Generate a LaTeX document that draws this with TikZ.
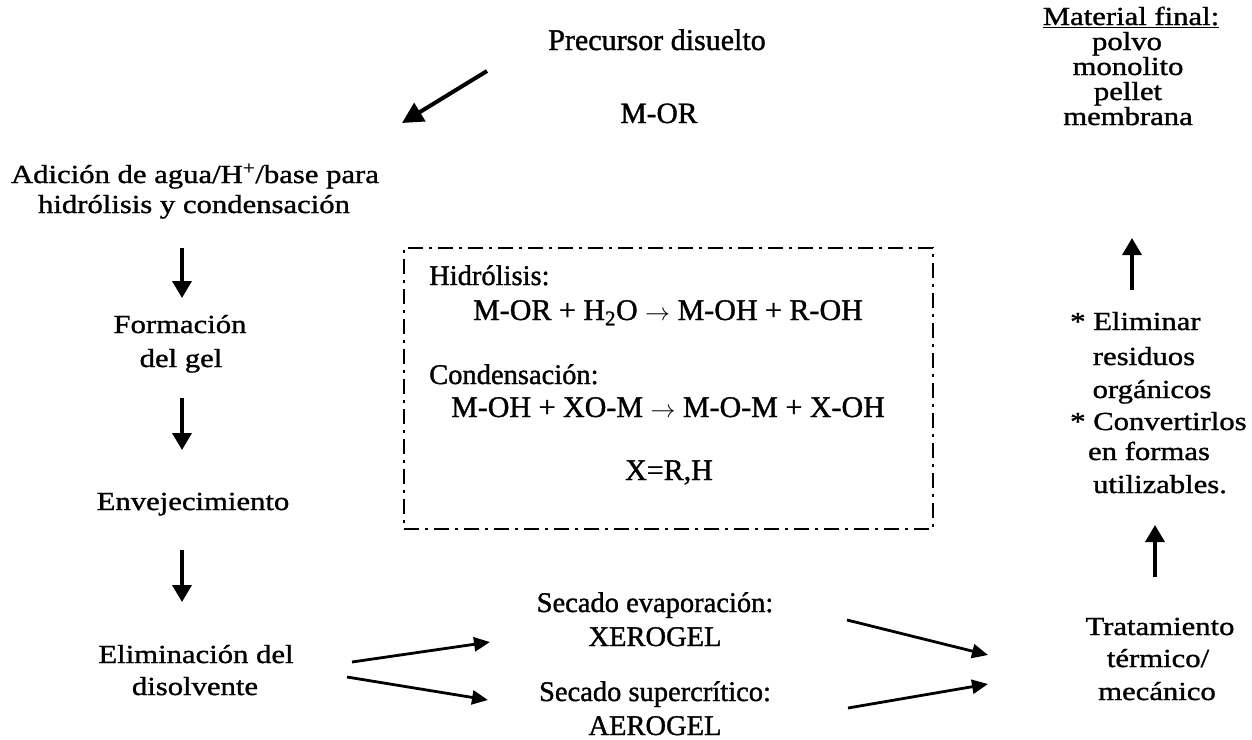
\documentclass[tikz,border=0pt]{standalone}
\usepackage{fontspec}
\setmainfont[FakeBold=1.2]{Liberation Serif}
\newfontfamily\WideF[FakeStretch=1.18,FakeBold=1.2]{Liberation Serif}
\usetikzlibrary{arrows.meta}
\begin{document}
\begin{tikzpicture}[x=1pt,y=-1pt,
  wtxt/.style={inner sep=0pt, anchor=base, font=\WideF\fontsize{26}{32}\selectfont},
  wtxtl/.style={wtxt, anchor=base west},
  ttxt/.style={inner sep=0pt, anchor=base, font=\fontsize{28.5}{34}\selectfont},
  ttxtl/.style={ttxt, anchor=base west},
  eqtxt/.style={inner sep=0pt, anchor=base, font=\fontsize{30}{34}\selectfont},
  flow/.style={line width=3.5pt, -{Triangle[length=17pt,width=19pt]}},
  bigflow/.style={line width=4pt, -{Triangle[length=21pt,width=21pt]}},
  sideflow/.style={line width=2.8pt, -{Triangle[length=16pt,width=14pt]}},
  dashbox/.style={draw, line width=2pt, dash pattern=on 15pt off 6pt on 3pt off 6pt,
    inner sep=0pt, anchor=north west}
]
\useasboundingbox[fill=white] (0,0) rectangle (1252,739);

% top centre
\node[ttxt, font=\fontsize{30}{34}\selectfont] (prec) at (657,50) {Precursor disuelto};
\node[ttxt, font=\fontsize{29.5}{34}\selectfont] (mor) at (659,123) {M-OR};

% left column
\node[wtxt] (adic1) at (195,183) {Adición de agua/H\textsuperscript{+}/base para};
\node[wtxt] (adic2) at (194,213) {hidrólisis y condensación};
\node[wtxt] (form1) at (180,333) {Formación};
\node[wtxt] (form2) at (181,367) {del gel};
\node[wtxt] (env) at (193,510) {Envejecimiento};
\node[wtxt] (elim1) at (196,663) {Eliminación del};
\node[wtxt] (elim2) at (195,695) {disolvente};

% dashed box
\node[dashbox, minimum width=529pt, minimum height=281pt] (box) at (403,247) {};
\node[ttxtl] (hid) at (429,285) {Hidrólisis:};
\node[eqtxt] (eq1) at (668,320) {M-OR + H\textsubscript{2}O $\rightarrow$ M-OH + R-OH};
\node[ttxtl] (cond) at (429,384) {Condensación:};
\node[eqtxt] (eq2) at (668,417) {M-OH + XO-M $\rightarrow$ M-O-M + X-OH};
\node[eqtxt] (xrh) at (669,480) {X=R,H};

% drying
\node[ttxt] (sec1) at (655,612) {Secado evaporación:};
\node[ttxt] (xero) at (655,646) {XEROGEL};
\node[ttxt] (sec2) at (655,701) {Secado supercrítico:};
\node[ttxt] (aero) at (655,735) {AEROGEL};

% right column
\node[wtxt] (mat) at (1131,25) {\underline{Material final:}};
\node[wtxt] (polvo) at (1127,50) {polvo};
\node[wtxt] (mono) at (1128,75) {monolito};
\node[wtxt] (pell) at (1128,100) {pellet};
\node[wtxt] (memb) at (1128,125) {membrana};

\node[wtxtl] (el1) at (1070,330) {* Eliminar};
\node[wtxt] (el2) at (1144,365) {residuos};
\node[wtxt] (el3) at (1152,398) {orgánicos};
\node[wtxtl] (cv1) at (1070,430) {* Convertirlos};
\node[wtxt] (cv2) at (1149,460) {en formas};
\node[wtxt] (cv3) at (1160,493) {utilizables.};

\node[wtxt] (trat1) at (1160,635) {Tratamiento};
\node[wtxt] (trat2) at (1158,667) {térmico/};
\node[wtxt] (trat3) at (1157,700) {mecánico};

% arrow end points
\coordinate (d0) at (487,71);   \coordinate (d1) at (402,123);
\coordinate (v1a) at (182,248); \coordinate (v1b) at (182,298);
\coordinate (v2a) at (182,398); \coordinate (v2b) at (182,450);
\coordinate (v3a) at (182,550); \coordinate (v3b) at (182,602);
\coordinate (a1a) at (352,662); \coordinate (a1b) at (490,642);
\coordinate (a2a) at (347,677); \coordinate (a2b) at (488,700);
\coordinate (a3a) at (847,620); \coordinate (a3b) at (988,655);
\coordinate (a4a) at (848,708); \coordinate (a4b) at (988,684);
\coordinate (u1a) at (1155,577); \coordinate (u1b) at (1155,525);
\coordinate (u2a) at (1132,290); \coordinate (u2b) at (1132,238);

\draw[bigflow] (d0) -- (d1);
\draw[flow] (v1a) -- (v1b);
\draw[flow] (v2a) -- (v2b);
\draw[flow] (v3a) -- (v3b);
\draw[sideflow] (a1a) -- (a1b);
\draw[sideflow] (a2a) -- (a2b);
\draw[sideflow] (a3a) -- (a3b);
\draw[sideflow] (a4a) -- (a4b);
\draw[flow] (u1a) -- (u1b);
\draw[flow] (u2a) -- (u2b);
\end{tikzpicture}
\end{document}
